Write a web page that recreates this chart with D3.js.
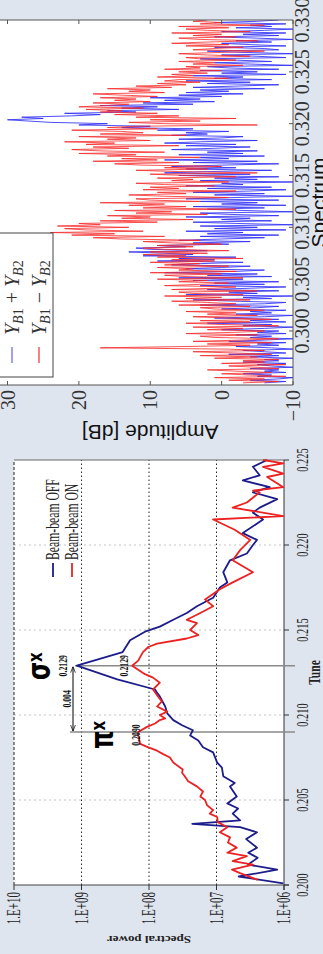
<!DOCTYPE html>
<html><head><meta charset="utf-8">
<script src="https://cdn.jsdelivr.net/npm/d3@7"></script>
<style>html,body{margin:0;padding:0;background:#dfe5ee;overflow:hidden}</style>
</head><body>
<svg id="c" width="323" height="954"></svg>
<script>
// ---------- Lower chart (spectral power vs tune) ----------
const tuneTicks = [0.200,0.205,0.210,0.215,0.220,0.225];
const tuneTickLabels = ["0.200","0.205","0.210","0.215","0.220","0.225"];
const powerTicks = [6,7,8,9,10];
const powerTickLabels = ["1.E+06","1.E+07","1.E+08","1.E+09","1.E+10"];
const offTune = [0.2001,0.2005,0.2009,0.2012,0.2016,0.2019,0.2022,0.2027,0.2031,0.2034,0.2036,0.2038,0.2042,0.2045,0.2048,0.2052,0.2058,0.2060,0.2064,0.2069,0.2072,0.2078,0.2081,0.2085,0.2088,0.2091,0.2094,0.2097,0.2101,0.2105,0.2111,0.2113,0.2115,0.2121,0.2129,0.2137,0.2144,0.2149,0.2152,0.2156,0.2160,0.2164,0.2169,0.2175,0.2178,0.2184,0.2191,0.2195,0.2200,0.2203,0.2207,0.2215,0.2219,0.2222,0.2227,0.2231,0.2234,0.2238,0.2241,0.2246,0.2250];
const offLogPower = [6.01,6.67,6.10,6.53,6.39,6.53,6.40,6.56,6.40,6.65,7.36,6.65,6.76,6.68,6.84,6.70,6.80,6.73,6.90,6.92,6.99,7.05,7.20,7.27,7.39,7.35,7.51,7.64,7.73,7.76,7.84,7.88,7.91,8.47,9.07,8.39,8.28,8.06,7.84,7.64,7.44,7.29,7.05,6.95,6.84,6.90,6.80,6.55,6.46,6.40,6.61,6.31,6.46,6.36,6.10,6.46,6.21,6.61,6.36,6.46,6.25];
const onTune = [0.2003,0.2007,0.2009,0.2012,0.2014,0.2017,0.2019,0.2022,0.2025,0.2028,0.2031,0.2034,0.2037,0.2040,0.2042,0.2044,0.2047,0.2050,0.2052,0.2055,0.2058,0.2061,0.2064,0.2066,0.2068,0.2072,0.2075,0.2077,0.2079,0.2081,0.2083,0.2088,0.2090,0.2093,0.2095,0.2097,0.2098,0.2100,0.2102,0.2105,0.2108,0.2111,0.2115,0.2119,0.2122,0.2124,0.2129,0.2132,0.2137,0.2140,0.2142,0.2145,0.2147,0.2150,0.2154,0.2156,0.2160,0.2164,0.2168,0.2174,0.2178,0.2184,0.2191,0.2197,0.2203,0.2209,0.2215,0.2217,0.2222,0.2225,0.2231,0.2232,0.2234,0.2240,0.2242,0.2246,0.2248,0.2250];
const onLogPower = [6.39,6.65,6.77,6.46,6.76,6.55,6.84,6.70,6.83,6.80,6.95,6.84,6.98,6.99,7.10,7.05,7.14,7.17,7.24,7.20,7.29,7.42,7.47,7.51,7.50,7.64,7.69,7.79,7.88,8.01,8.13,8.16,8.16,8.03,7.91,7.84,7.76,7.84,7.73,7.88,7.81,7.87,7.94,7.84,7.94,8.06,8.25,8.16,8.09,8.01,7.88,7.44,7.27,7.39,7.29,7.44,7.24,7.05,7.17,6.95,6.76,6.46,6.76,6.65,6.50,6.73,7.05,6.01,6.76,6.55,6.36,6.46,6.01,6.25,6.01,6.31,6.01,6.31];
const lowerSeries = ["Beam-beam OFF","Beam-beam ON"];
const sigmaTune = 0.2129, piTune = 0.2090;

// ---------- Upper chart (amplitude spectrum) ----------
const specTicks = [0.300,0.305,0.310,0.315,0.320,0.325,0.330];
const specTickLabels = ["0.300","0.305","0.310","0.315","0.320","0.325","0.330"];
const dbTicks = [-10,0,10,20,30];
const dbTickLabels = ["\u221210","0","10","20","30"];
const specTuneStart = 0.2950, specTuneStep = 0.000125;
const sumDb = [
 -6,-9,-4,-8,-10,-5,-7,-3,-9,-6,-8,-4,-10,-7,-5,-9,-3,-8,-6,-10,
 -4,-8,-1,-9,-6,-3,-10,-7,-2,-8,-5,-9,-1,-6,-10,-4,-7,-2,-9,-5,
 -8,0,-6,-10,-3,-7,2,-9,-4,-8,1,-6,-10,-2,-7,-4,-9,0,-5,-8,
 3,-6,-9,-2,4,-7,-3,-10,5,-5,-1,-8,2,-4,-9,3,-6,1,-8,4,
 -3,6,-7,2,-5,8,-2,-6,5,0,-4,7,3,-3,9,1,6,-2,11,4,
 8,13,2,10,12,5,9,-1,4,-4,6,0,-6,3,-8,2,-3,5,-9,1,
 -5,3,-10,-2,4,-7,0,-4,5,-8,-1,3,-10,-3,2,-6,4,-9,0,-5,
 3,-8,5,-2,-10,1,-6,4,-4,-9,2,-7,5,-3,0,-10,3,-5,1,-8,
 6,-4,8,2,-7,5,-2,7,0,-8,4,-5,8,-1,3,-6,6,-3,2,-5,
 7,1,-4,5,-2,8,3,-5,6,0,-3,7,2,5,-1,9,4,14,10,20,
 16,24,27,30,25,28,21,17,22,12,16,6,14,9,17,4,11,1,8,3,
 10,0,6,-3,5,-1,3,-6,4,-2,-8,2,-4,5,-7,1,-3,4,-9,0,
 -5,3,-8,-1,2,-10,-4,1,-7,-2,3,-9,-5,0,-10,-3,2,-8,-6,1,
 -9,-4,0,-7,-2,-10,-5,1,-8,-3,-9,0,-6,-10,-2,-7,-4,-9,1,-5,
 -8];
const diffDb = [
 -3,-8,-1,-6,1,-9,-4,0,-7,-2,2,-8,-5,-1,-9,0,-6,-3,-8,1,
 -5,3,-7,-2,4,-6,-1,17,5,-4,2,-7,4,-3,-8,1,3,-5,5,-2,
 -6,2,-3,4,-8,0,5,-4,3,-7,-1,4,-5,2,-2,5,-6,1,3,-4,
 6,-2,2,7,-4,5,0,8,-3,4,6,-5,7,1,-2,8,3,-1,6,2,
 9,-3,5,8,0,10,-2,6,4,9,-1,8,3,10,1,7,-3,9,5,11,
 2,10,-1,8,11,4,9,0,7,11,3,14,18,8,21,15,24,11,19,22,
 13,23,17,20,9,17,4,14,10,16,2,12,7,15,-2,11,5,13,8,17,
 3,10,12,-1,8,13,5,9,-2,11,6,10,1,8,12,-1,7,4,9,-2,
 5,10,-5,6,12,2,8,0,11,15,6,18,9,14,3,16,12,20,8,17,
 21,13,18,6,19,15,22,10,16,12,20,5,17,11,14,21,9,16,12,-5,
 8,13,3,10,-2,12,6,15,9,17,14,19,11,20,16,13,18,10,15,12,
 17,9,14,18,8,13,10,16,7,12,5,9,3,8,6,-1,9,4,7,2,
 6,0,8,3,5,-3,4,1,6,-2,3,5,-4,2,6,0,-6,4,1,-3,
 5,-1,7,2,-5,3,6,-2,4,0,7,-4,2,5,-1,6,-6,3,0,4,
 2];

const BG = "#dfe5ee";
const svg = d3.select("#c");
svg.append("rect").attr("width",323).attr("height",954).attr("fill",BG);
const defs = svg.append("defs");
["s","e"].forEach(k=>{
  defs.append("marker").attr("id","ar"+k).attr("viewBox","0 0 10 10").attr("refX",k==="e"?10:0).attr("refY",5)
   .attr("markerWidth",6).attr("markerHeight",6).attr("orient","auto")
   .append("path").attr("d",k==="e"?"M0,1 L10,5 L0,9":"M10,1 L0,5 L10,9").attr("fill","none").attr("stroke","#000").attr("stroke-width",1.2);
});
// whole figure drawn landscape then rotated
const root = svg.append("g").attr("transform","translate(0,954) rotate(-90)");

// ===== lower chart =====
const KB = 0.65; // horizontal squeeze of text
const bx = d3.scaleLinear().domain([0.200,0.225]).range([69,494]);
const by = d3.scaleLinear().domain([6,10]).range([284,14]);
const B = root.append("g");
B.append("rect").attr("x",bx(0.200)).attr("y",by(10)).attr("width",bx(0.225)-bx(0.200)).attr("height",by(6)-by(10)).attr("fill","#fff");
B.selectAll(".vg").data(tuneTicks.slice(1,-1)).join("line")
 .attr("x1",d=>bx(d)).attr("x2",d=>bx(d)).attr("y1",by(10)).attr("y2",by(6))
 .attr("stroke","#c4c4c4").attr("stroke-width",1).attr("stroke-dasharray","2,3");
B.selectAll(".hg").data(powerTicks.slice(1,-1)).join("line")
 .attr("x1",bx(0.200)).attr("x2",bx(0.225)).attr("y1",d=>by(d)).attr("y2",d=>by(d))
 .attr("stroke","#222").attr("stroke-width",1).attr("stroke-dasharray","1.5,2.5");
B.append("line").attr("x1",bx(0.200)).attr("x2",bx(0.225)).attr("y1",by(10)).attr("y2",by(10)).attr("stroke","#222").attr("stroke-dasharray","3,2");
B.append("line").attr("x1",bx(0.225)).attr("x2",bx(0.225)).attr("y1",by(10)).attr("y2",by(6)).attr("stroke","#666");
B.append("line").attr("x1",bx(0.200)).attr("x2",bx(0.200)).attr("y1",by(10)).attr("y2",by(6)+5).attr("stroke","#444");
B.append("line").attr("x1",bx(0.200)-5).attr("x2",bx(0.225)).attr("y1",by(6)).attr("y2",by(6)).attr("stroke","#333");
B.selectAll(".xt").data(tuneTicks).join("line").attr("x1",d=>bx(d)).attr("x2",d=>bx(d)).attr("y1",by(6)).attr("y2",by(6)+5).attr("stroke","#333");
B.selectAll(".yt").data(powerTicks).join("line").attr("x1",bx(0.2)-5).attr("x2",bx(0.2)).attr("y1",d=>by(d)).attr("y2",d=>by(d)).attr("stroke","#333");
function sq(g,u,v,k){return g.append("text").attr("transform",`translate(${u},${v}) scale(${k},1)`);}
tuneTicks.forEach((d,i)=>sq(B,bx(d),308,KB).attr("text-anchor","middle").attr("font-family","Liberation Serif").attr("font-size",16).attr("fill","#222").text(tuneTickLabels[i]));
powerTicks.forEach((d,i)=>sq(B,62,by(d)+6,0.58).attr("text-anchor","end").attr("font-family","Liberation Serif").attr("font-size",19).attr("fill","#222").text(powerTickLabels[i]));
B.append("text").attr("transform",`translate(18,${(by(6)+by(10))/2}) scale(0.75,1) rotate(-90)`).attr("text-anchor","middle")
 .attr("font-family","Liberation Serif").attr("font-weight","bold").attr("font-size",13).attr("fill","#222").text("Spectral power");
sq(B,(bx(0.2)+bx(0.225))/2,320,0.72).attr("text-anchor","middle").attr("font-family","Liberation Serif").attr("font-weight","bold").attr("font-size",16).attr("fill","#222").text("Tune");
// annotations
[[sigmaTune,75],[piTune,70]].forEach(([t,v0])=>{
  B.append("line").attr("x1",bx(t)).attr("x2",bx(t)).attr("y1",v0).attr("y2",295).attr("stroke","#8a8a8a").attr("stroke-width",1.6);
});
const lineGen = (xs,ys,sx,sy)=>d3.line().x((d,i)=>sx(xs[i])).y((d,i)=>sy(ys[i]))(xs);
B.append("path").attr("d",lineGen(offTune,offLogPower,bx,by)).attr("fill","none").attr("stroke","#1c1c8a").attr("stroke-width",1.8).attr("stroke-linejoin","round");
B.append("path").attr("d",lineGen(onTune,onLogPower,bx,by)).attr("fill","none").attr("stroke","#ec2222").attr("stroke-width",1.8).attr("stroke-linejoin","round");
B.append("line").attr("x1",bx(piTune)+1).attr("x2",bx(sigmaTune)-1).attr("y1",73).attr("y2",73).attr("stroke","#000").attr("stroke-width",1)
 .attr("marker-start","url(#ars)").attr("marker-end","url(#are)");
const small = (u,v,txt)=>sq(B,u,v,0.65).attr("text-anchor","middle").attr("font-family","Liberation Serif").attr("font-weight","bold").attr("font-size",12).attr("fill","#111").text(txt);
small(bx(sigmaTune),67,"0.2129");
small(bx(sigmaTune),128,"0.2129");
small(bx(piTune)-3,140,"0.2090");
small((bx(piTune)+bx(sigmaTune))/2,71,"0.004");
const sig = sq(B,274,50,0.75).attr("font-family","DejaVu Sans").attr("font-weight","bold").attr("font-size",31).attr("fill","#000");
sig.append("tspan").text("\u03c3"); sig.append("tspan").attr("font-size",20).attr("dy",-8).text("x");
const pis = sq(B,205,113,0.75).attr("font-family","DejaVu Sans").attr("font-weight","bold").attr("font-size",31).attr("fill","#000");
pis.append("tspan").text("\u03c0"); pis.append("tspan").attr("font-size",20).attr("dy",-8).text("x");
// legend
const legC = ["#1c1c8a","#ec2222"];
lowerSeries.forEach((s,i)=>{
  const v = 53 + i*19;
  B.append("line").attr("x1",377).attr("x2",391).attr("y1",v).attr("y2",v).attr("stroke",legC[i]).attr("stroke-width",1.8);
  sq(B,394,v+6,KB).attr("font-family","Liberation Serif").attr("font-size",18).attr("fill","#222").text(s);
});

// ===== upper chart =====
const tx = d3.scaleLinear().domain([0.29479,0.330]).range([569,934]);
const ty = d3.scaleLinear().domain([-10,30]).range([293,7.5]);
const T = root.append("g");
T.append("clipPath").attr("id","tc").append("rect").attr("x",569).attr("y",-20).attr("width",365).attr("height",313);
T.append("rect").attr("x",569).attr("y",-20).attr("width",365).attr("height",313).attr("fill","#fff");
const specTune = sumDb.map((d,i)=>specTuneStart + i*specTuneStep);
const P = T.append("g").attr("clip-path","url(#tc)");
P.append("path").attr("d",lineGen(specTune,sumDb,tx,ty)).attr("fill","none").attr("stroke","#2f2ff5").attr("stroke-opacity",0.85).attr("stroke-width",1);
P.append("path").attr("d",lineGen(specTune,diffDb,tx,ty)).attr("fill","none").attr("stroke","#f52a2a").attr("stroke-opacity",0.8).attr("stroke-width",1);
const FC = "#555";
T.append("line").attr("x1",569).attr("x2",569).attr("y1",-20).attr("y2",293).attr("stroke",FC);
T.append("line").attr("x1",934).attr("x2",934).attr("y1",-20).attr("y2",293).attr("stroke",FC);
T.append("line").attr("x1",569).attr("x2",934).attr("y1",293).attr("y2",293).attr("stroke",FC);
T.selectAll(".tt").data(specTicks.filter(d=>tx(d)<933)).join("line").attr("x1",d=>tx(d)).attr("x2",d=>tx(d)).attr("y1",289).attr("y2",293).attr("stroke",FC);
T.selectAll(".dt").data(dbTicks).join("line").attr("x1",569).attr("x2",573).attr("y1",d=>ty(d)).attr("y2",d=>ty(d)).attr("stroke",FC);
T.selectAll(".dt2").data(dbTicks).join("line").attr("x1",930).attr("x2",934).attr("y1",d=>ty(d)).attr("y2",d=>ty(d)).attr("stroke",FC);
specTicks.forEach((d,i)=>T.append("text").attr("x",tx(d)).attr("y",309).attr("text-anchor","middle").attr("font-family","Liberation Serif").attr("font-size",20).attr("fill","#333").text(specTickLabels[i]));
dbTicks.forEach((d,i)=>T.append("text").attr("x",564).attr("y",ty(d)+7).attr("text-anchor","end").attr("font-family","Liberation Serif").attr("font-size",20).attr("fill","#333").text(dbTickLabels[i]));
T.append("text").attr("transform",`translate(529,${ty(10)}) rotate(-90)`).attr("text-anchor","middle").attr("font-family","Liberation Sans").attr("font-size",21).attr("fill","#111").text("Amplitude [dB]");
T.append("text").attr("x",(569+934)/2).attr("y",326).attr("text-anchor","middle").attr("font-family","Liberation Sans").attr("font-size",21).attr("fill","#111").text("Spectrum");
// legend
T.append("rect").attr("x",577).attr("y",-6).attr("width",144).attr("height",59).attr("fill","#fff").attr("stroke","#444").attr("stroke-width",1);
const upC = ["#6060ee","#ee3030"];
[["+","2"],["\u2212","2"]].forEach(([op,n],i)=>{
  const v = 12 + i*27;
  T.append("line").attr("x1",591).attr("x2",607).attr("y1",v).attr("y2",v).attr("stroke",upC[i]).attr("stroke-width",1.2);
  const t = T.append("text").attr("x",619).attr("y",v+7).attr("font-family","Liberation Serif").attr("font-size",20).attr("fill","#333");
  t.append("tspan").attr("font-style","italic").text("Y");
  t.append("tspan").attr("font-style","italic").attr("font-size",14).attr("dy",4).text("B");
  t.append("tspan").attr("font-size",14).text("1");
  t.append("tspan").attr("dy",-4).text(" "+op+" ");
  t.append("tspan").attr("font-style","italic").text("Y");
  t.append("tspan").attr("font-style","italic").attr("font-size",14).attr("dy",4).text("B");
  t.append("tspan").attr("font-size",14).text(n);
});
</script>
</body></html>
